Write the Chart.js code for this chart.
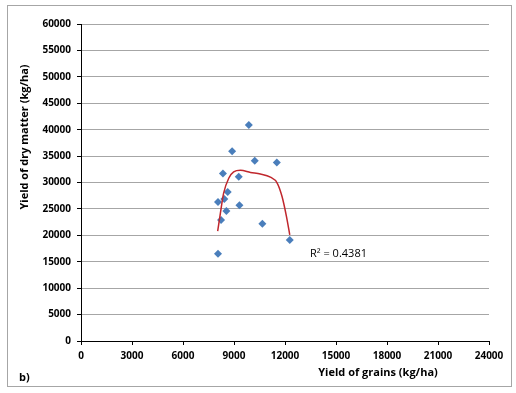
<!DOCTYPE html>
<html>
<head>
<meta charset="utf-8">
<script src="https://cdn.jsdelivr.net/npm/chart.js@4"></script>
<style>
  body { margin: 0; background: #fff; }
  #wrap { width: 516px; height: 393px; }
</style>
</head>
<body>
<div id="wrap"><canvas id="myChart" width="516" height="393"></canvas></div>
<script>
// grain yield (x) and dry matter yield (y), kg/ha
const grainYield = [9870, 8890, 10220, 11520, 8350, 9280, 8630, 8430, 8060, 9320, 8550, 8240, 10670, 12280, 8060];
const dryMatter = [40900, 35900, 34100, 33800, 31700, 31100, 28200, 26900, 26300, 25700, 24600, 22900, 22200, 19100, 16500];

// polynomial trendline
const trendX = [8040, 8200, 8390, 8690, 8980, 9380, 9970, 10550, 11140, 11540, 11830, 12090, 12280];
const trendY = [20800, 24200, 28000, 30800, 32000, 32300, 31900, 31600, 31000, 29900, 27300, 23500, 20100];

const xTicks = [0, 3000, 6000, 9000, 12000, 15000, 18000, 21000, 24000];
const yTicks = [0, 5000, 10000, 15000, 20000, 25000, 30000, 35000, 40000, 45000, 50000, 55000, 60000];

const rSquared = 'R² = 0.4381';
const xTitle = 'Yield of grains (kg/ha)';
const yTitle = 'Yield of dry matter (kg/ha)';
const panelLabel = 'b)';

const points = grainYield.map((x, i) => ({ x: x, y: dryMatter[i] }));
const trend = trendX.map((x, i) => ({ x: x, y: trendY[i] }));

const boldFont = { family: 'Open Sans', size: 10, weight: 'bold' };

const extras = {
  id: 'extras',
  afterDraw(chart) {
    const c = chart.ctx;
    c.save();
    c.strokeStyle = '#a6a6a6';
    c.lineWidth = 1;
    c.strokeRect(7.5, 5.5, 504, 381);

    c.fillStyle = '#000';
    c.font = 'bold 11px "Open Sans"';
    c.textBaseline = 'middle';
    c.textAlign = 'center';
    c.fillText(xTitle, 378, 373);
    c.textAlign = 'left';
    c.fillText(panelLabel, 19, 378);

    c.save();
    c.translate(25, 137);
    c.rotate(-Math.PI / 2);
    c.textAlign = 'center';
    c.fillText(yTitle, 0, 0);
    c.restore();

    c.font = '11px "Open Sans"';
    c.textAlign = 'left';
    c.fillText(rSquared, 310, 254);
    c.restore();
  }
};

const ctx = document.getElementById('myChart').getContext('2d');
const myChart = new Chart(ctx, {
  type: 'scatter',
  data: {
    datasets: [{
      label: 'data',
      data: points,
      pointStyle: 'rectRot',
      pointRadius: 4,
      backgroundColor: '#4a7ebb',
      borderColor: '#4a7ebb',
      borderWidth: 0,
      order: 2
    }, {
      label: 'trend',
      data: trend,
      showLine: true,
      pointRadius: 0,
      borderColor: '#c0272d',
      borderWidth: 1.5,
      cubicInterpolationMode: 'monotone',
      order: 1
    }]
  },
  options: {
    responsive: false,
    animation: false,
    layout: { padding: { top: 24, right: 27, left: 0, bottom: 0 } },
    plugins: { legend: { display: false }, tooltip: { enabled: false } },
    scales: {
      x: {
        type: 'linear',
        min: 0,
        max: 24000,
        afterBuildTicks: (s) => { s.ticks = xTicks.map(v => ({ value: v })); },
        afterFit: (s) => { s.height = 52; },
        ticks: { color: '#000', font: boldFont, padding: 5, maxRotation: 0, callback: (v) => String(v) },
        grid: { drawOnChartArea: false, tickLength: 4, tickColor: '#000' },
        border: { color: '#000', width: 1 }
      },
      y: {
        min: 0,
        max: 60000,
        afterBuildTicks: (s) => { s.ticks = yTicks.map(v => ({ value: v })); },
        afterFit: (s) => { s.width = 81; },
        ticks: { color: '#000', font: boldFont, padding: 6, callback: (v) => String(v) },
        grid: { color: '#a6a6a6', tickLength: 4, tickColor: '#000' },
        border: { color: '#000', width: 1 }
      }
    }
  },
  plugins: [extras]
});
</script>
</body>
</html>
